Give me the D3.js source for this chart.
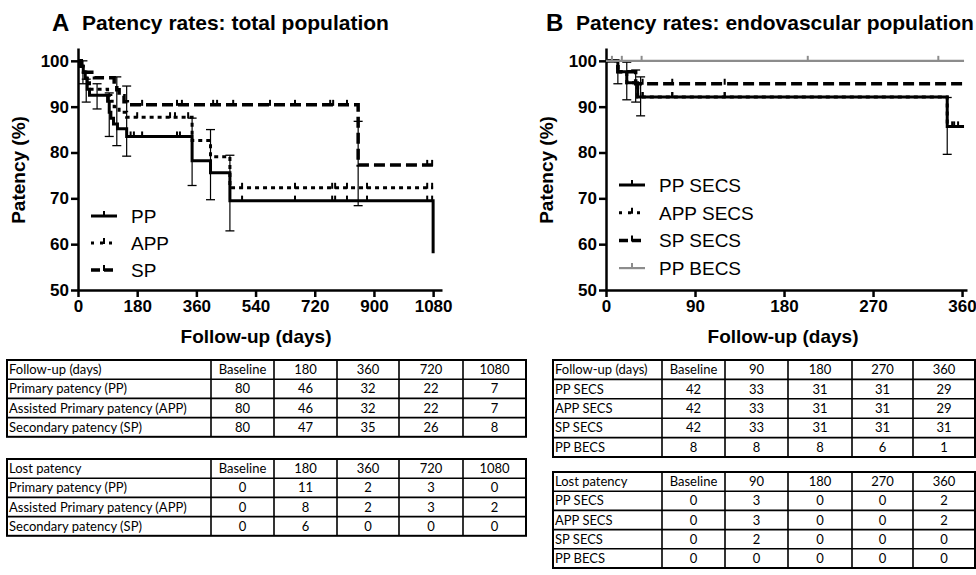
<!DOCTYPE html>
<html>
<head>
<meta charset="utf-8">
<script src="https://cdn.jsdelivr.net/npm/d3@7"></script>
<style>
  body { margin: 0; background: #fff; }
  svg { display: block; font-family: "Liberation Sans", Arial, sans-serif; }
</style>
</head>
<body>
<script>
// ---- data ----
// step curves: [day, patency %] (value holds from that day on)
var ppA  = [[0,100],[8,98.8],[16,97.5],[22,96.2],[28,93.8],[35,92.5],[90,91.2],[95,88.8],[100,87.5],[108,86.2],[120,85.2],[148,83.5],[347,78.2],[403,75.6],[462,69.5],[1080,58]];
var appA = [[0,100],[8,98.8],[16,97.5],[25,96.2],[35,93.8],[90,92.5],[100,91.2],[110,90],[125,88.8],[148,87.7],[347,82.6],[403,79.1],[462,72.3],[1080,72.3]];
var spA  = [[0,100],[10,98.8],[20,97.5],[50,96.3],[110,95],[118,93.7],[125,92.4],[140,91.1],[150,90.4],[852,77.3],[1080,77.3]];
// censored days
var ppAcens  = [160, 170, 195, 301, 310, 499, 660, 773, 782, 818, 879, 1062, 1077];
var appAcens = [180, 280, 295, 335, 499, 660, 773, 782, 818, 879, 1062, 1077];
var spAcens  = [195, 301, 316, 411, 423, 472, 584, 660, 767, 776, 818, 1062, 1077];
// error bars: [day, low, high]
var errA = [[15,95,100],[25,91,96],[58,89.5,95],[95,83.5,93],[118,81.5,96.5],[148,79.2,94.5],[347,72.8,87.5],[403,69.7,85],[462,62.9,79.4],[852,68.4,86.8]];

var ppB   = [[0,100],[12,97.6],[21,95.2],[32,92.1],[345,85.7],[362,85.7]];
var appB  = [[0,100],[12,97.6],[21,95.2],[32,92.1],[345,85.7],[362,85.7]];
var spB   = [[0,100],[12,97.6],[30,95],[362,95]];
var becsB = [[0,100],[362,100]];
var ppBcens   = [37, 67, 120, 350, 356];
var appBcens  = [37, 67, 120, 352];
var spBcens   = [37, 67, 120];
var becsBcens = [6, 16, 36, 204, 336];
var errB = [[12,95,100],[21,91.5,99.7],[30,91,98],[35,88,96.5],[345,79.6,92]];

var yTicks  = [50, 60, 70, 80, 90, 100];
var xTicksA = [0, 180, 360, 540, 720, 900, 1080];
var xTicksB = [0, 90, 180, 270, 360];

// tables
var tableAcols = ["Baseline", "180", "360", "720", "1080"];
var tableArows = ["Primary patency (PP)", "Assisted Primary patency (APP)", "Secondary patency (SP)"];
var atRiskA = [[80,46,32,22,7],[80,46,32,22,7],[80,47,35,26,8]];
var lostA   = [[0,11,2,3,0],[0,8,2,3,2],[0,6,0,0,0]];
var tableBcols = ["Baseline", "90", "180", "270", "360"];
var tableBrows = ["PP SECS", "APP SECS", "SP SECS", "PP BECS"];
var atRiskB = [[42,33,31,31,29],[42,33,31,31,29],[42,33,31,31,31],[8,8,8,6,1]];
var lostB   = [[0,3,0,0,2],[0,3,0,0,2],[0,2,0,0,0],[0,0,0,0,0]];

var styles = {
	PP:   { color: '#000', width: 3, dash: null },
	APP:  { color: '#000', width: 3, dash: '4,4' },
	SP:   { color: '#000', width: 3.5, dash: '11,5' },
	BECS: { color: '#8c8c8c', width: 2.2, dash: null }
};

var svg = d3.select('body').append('svg').attr('width', 976).attr('height', 575);

function panel(cfg) {
	var g = svg.append('g');
	var x = d3.scaleLinear().domain(cfg.xDomain).range(cfg.xRange);
	var y = d3.scaleLinear().domain([50, 102.8]).range([290, 48]);

	// title
	g.append('text').attr('x', cfg.letterX).attr('y', 31)
		.attr('font-size', 24).attr('font-weight', 'bold').text(cfg.letter);
	g.append('text').attr('x', cfg.letterX + 30).attr('y', 30)
		.attr('font-size', 21).attr('font-weight', 'bold').text(cfg.title);

	// axes
	var ya = g.append('g').attr('transform', 'translate(' + cfg.xRange[0] + ',0)')
		.call(d3.axisLeft(y).tickValues(yTicks).tickSize(7).tickSizeOuter(0).tickPadding(2));
	var xa = g.append('g').attr('transform', 'translate(0,290)')
		.call(d3.axisBottom(x).tickValues(cfg.xTicks).tickFormat(d3.format('d'))
			.tickSize(7).tickSizeOuter(0).tickPadding(3));
	[ya, xa].forEach(function (a) {
		a.selectAll('path, line').attr('stroke', '#000').attr('stroke-width', 2.5);
		a.selectAll('text').attr('fill', '#000').attr('font-size', 17).attr('font-weight', 'bold')
			.attr('font-family', '"Liberation Sans", Arial, sans-serif');
	});

	g.append('text')
		.attr('transform', 'translate(' + (cfg.xRange[0] - 53) + ',170) rotate(-90)')
		.attr('text-anchor', 'middle').attr('font-size', 19).attr('font-weight', 'bold')
		.text('Patency (%)');
	g.append('text').attr('x', cfg.xLabelX).attr('y', 343)
		.attr('text-anchor', 'middle').attr('font-size', 19).attr('font-weight', 'bold')
		.text('Follow-up (days)');

	// error bars
	var eb = g.selectAll('.err').data(cfg.err).enter().append('g').attr('class', 'err');
	eb.append('line')
		.attr('x1', function (d) { return x(d[0]); }).attr('x2', function (d) { return x(d[0]); })
		.attr('y1', function (d) { return y(d[1]); }).attr('y2', function (d) { return y(d[2]); })
		.attr('stroke', '#000').attr('stroke-width', 1.2);
	[1, 2].forEach(function (k) {
		eb.append('line')
			.attr('x1', function (d) { return x(d[0]) - 4.5; }).attr('x2', function (d) { return x(d[0]) + 4.5; })
			.attr('y1', function (d) { return y(d[k]); }).attr('y2', function (d) { return y(d[k]); })
			.attr('stroke', '#000').attr('stroke-width', 1.3);
	});

	var line = d3.line().x(function (d) { return x(d[0]); }).y(function (d) { return y(d[1]); })
		.curve(d3.curveStepAfter);

	cfg.series.forEach(function (s) {
		var st = styles[s.style];
		g.append('path').datum(s.data)
			.attr('fill', 'none').attr('stroke', st.color).attr('stroke-width', st.width)
			.attr('stroke-dasharray', st.dash).attr('d', line);
		// censor ticks
		g.selectAll(null).data(s.cens).enter().append('line')
			.attr('x1', function (d) { return x(d); }).attr('x2', function (d) { return x(d); })
			.attr('y1', function (d) { return y(valueAt(s.data, d)) - 5; })
			.attr('y2', function (d) { return y(valueAt(s.data, d)) + 1; })
			.attr('stroke', st.color).attr('stroke-width', 2);
	});

	// legend
	var lg = g.selectAll('.leg').data(cfg.series).enter().append('g').attr('class', 'leg')
		.attr('transform', function (d, i) { return 'translate(' + cfg.legX + ',' + (cfg.legY + i * cfg.legStep) + ')'; });
	lg.append('line').attr('x1', 0).attr('x2', 26).attr('y1', 0).attr('y2', 0)
		.attr('stroke', function (d) { return styles[d.style].color; })
		.attr('stroke-width', function (d) { return styles[d.style].width; })
		.attr('stroke-dasharray', function (d) { return d.style === 'APP' ? '3,6' : d.style === 'SP' ? '9,4' : null; });
	lg.append('line').attr('x1', 13).attr('x2', 13).attr('y1', -5).attr('y2', 1)
		.attr('stroke', function (d) { return styles[d.style].color; }).attr('stroke-width', 2);
	lg.append('text').attr('x', 40).attr('y', 7).attr('font-size', 19)
		.text(function (d) { return d.name; });
}

function valueAt(data, day) {
	var v = data[0][1];
	data.forEach(function (p) { if (p[0] <= day) v = p[1]; });
	return v;
}

panel({
	letter: 'A', letterX: 52, title: 'Patency rates: total population',
	xDomain: [0, 1107], xRange: [78, 442], xTicks: xTicksA, xLabelX: 256,
	err: errA, legX: 91, legY: 216, legStep: 27,
	series: [
		{ name: 'PP', style: 'PP', data: ppA, cens: ppAcens },
		{ name: 'APP', style: 'APP', data: appA, cens: appAcens },
		{ name: 'SP', style: 'SP', data: spA, cens: spAcens }
	]
});
panel({
	letter: 'B', letterX: 546, title: 'Patency rates: endovascular population',
	xDomain: [0, 365], xRange: [606, 967], xTicks: xTicksB, xLabelX: 783,
	err: errB, legX: 619, legY: 185, legStep: 27.7,
	series: [
		{ name: 'PP SECS', style: 'PP', data: ppB, cens: ppBcens },
		{ name: 'APP SECS', style: 'APP', data: appB, cens: appBcens },
		{ name: 'SP SECS', style: 'SP', data: spB, cens: spBcens },
		{ name: 'PP BECS', style: 'BECS', data: becsB, cens: becsBcens }
	]
});

// ---- tables ----
function table(edges, top, rowH, head, cols, rows, vals) {
	var g = svg.append('g');
	var data = [[head].concat(cols)].concat(rows.map(function (r, i) { return [r].concat(vals[i]); }));
	var bottom = top + rowH * data.length;
	g.append('rect').attr('x', edges[0]).attr('y', top)
		.attr('width', edges[edges.length - 1] - edges[0]).attr('height', bottom - top)
		.attr('fill', 'none').attr('stroke', '#000').attr('stroke-width', 2);
	g.selectAll('.vl').data(edges.slice(1, -1)).enter().append('line')
		.attr('x1', function (d) { return d; }).attr('x2', function (d) { return d; })
		.attr('y1', top).attr('y2', bottom).attr('stroke', '#000').attr('stroke-width', 1.6);
	g.selectAll('.hl').data(d3.range(1, data.length)).enter().append('line')
		.attr('x1', edges[0]).attr('x2', edges[edges.length - 1])
		.attr('y1', function (d) { return top + d * rowH; }).attr('y2', function (d) { return top + d * rowH; })
		.attr('stroke', '#000').attr('stroke-width', 1.6);
	data.forEach(function (row, r) {
		g.selectAll(null).data(row).enter().append('text')
			.attr('x', function (d, c) { return c === 0 ? edges[0] + 2 : (edges[c] + edges[c + 1]) / 2; })
			.attr('y', top + r * rowH + rowH / 2 + 4.5)
			.attr('text-anchor', function (d, c) { return c === 0 ? 'start' : 'middle'; })
			.attr('font-family', 'Lato, sans-serif').attr('font-size', 13)
			.text(function (d) { return d; });
	});
}

var edgesA = [7, 211, 274, 337, 399, 463, 526];
var edgesB = [553, 662, 725, 788, 852, 913, 975];
table(edgesA, 360, 19.2, 'Follow-up (days)', tableAcols, tableArows, atRiskA);
table(edgesA, 459, 19.2, 'Lost patency', tableAcols, tableArows, lostA);
table(edgesB, 360, 19.4, 'Follow-up (days)', tableBcols, tableBrows, atRiskB);
table(edgesB, 472, 19.2, 'Lost patency', tableBcols, tableBrows, lostB);
</script>
</body>
</html>
